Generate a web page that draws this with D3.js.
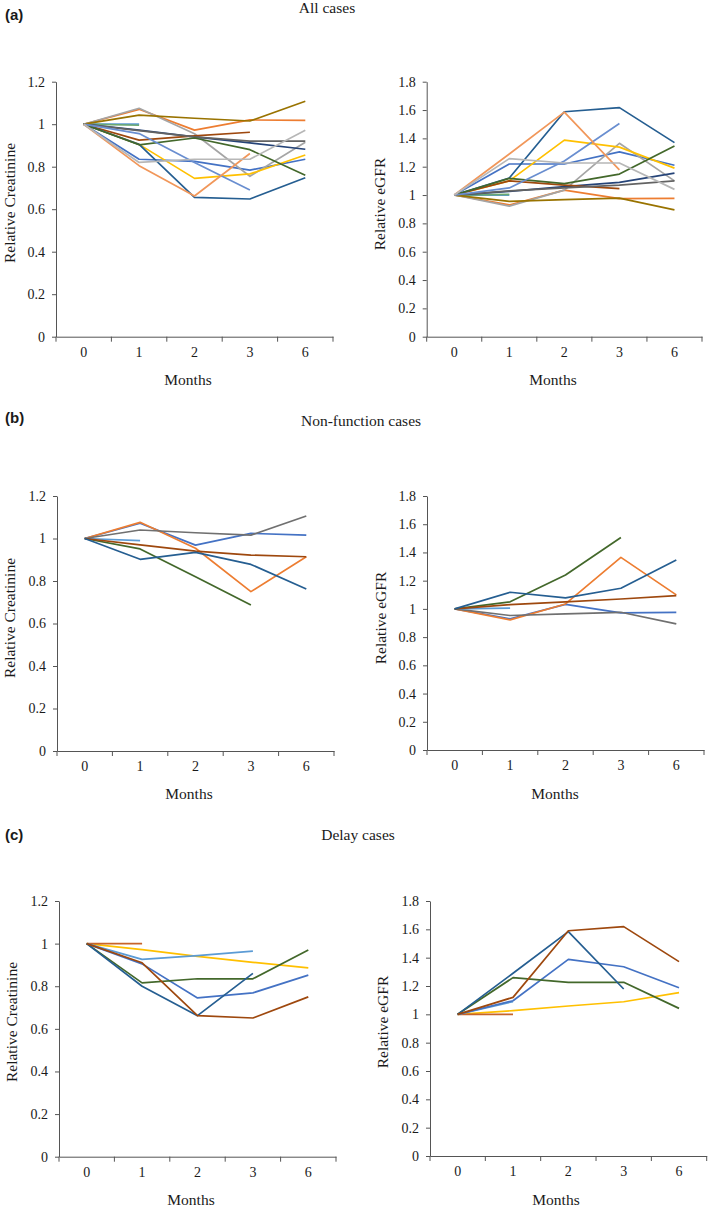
<!DOCTYPE html>
<html>
<head>
<meta charset="utf-8">
<script src="https://cdn.jsdelivr.net/npm/d3@7"></script>
<style>
  html, body { margin: 0; padding: 0; background: #ffffff; }
  svg { display: block; }
</style>
</head>
<body>
<script>
// ---------------- DATA ----------------
const months = ["0", "1", "2", "3", "6"];
const creatinineTicks = [0, 0.2, 0.4, 0.6, 0.8, 1, 1.2];
const egfrTicks = [0, 0.2, 0.4, 0.6, 0.8, 1, 1.2, 1.4, 1.6, 1.8];

// (a) All cases
const allColors = ["#4472C4", "#ED7D31", "#A5A5A5", "#FFC000", "#5B9BD5", "#6AA872",
  "#264478", "#9E480E", "#636363", "#997300", "#255E91", "#43682B",
  "#698ED0", "#F1975A", "#B7B7B7"];
const allCreatinine = [
  [1, 0.835, 0.825, 0.784, 0.835],
  [1, 1.07, 0.972, 1.02, 1.018],
  [1, 1.075, 0.955, 0.755, 0.915],
  [1, 0.905, 0.745, 0.766, 0.855],
  [1, 1.0, null, null, null],
  [1, 0.995, null, null, null],
  [1, 0.972, 0.94, 0.912, 0.882],
  [1, 0.925, 0.945, 0.962, null],
  [1, 0.97, 0.94, 0.92, 0.92],
  [1, 1.043, 1.028, 1.015, 1.108],
  [1, 0.905, 0.656, 0.648, 0.748],
  [1, 0.903, 0.935, 0.88, 0.76],
  [1, 0.956, 0.82, 0.69, null],
  [1, 0.805, 0.662, 0.862, null],
  [1, 0.82, 0.835, 0.835, 0.972]
];
const allEGFR = [
  [1, 1.219, 1.219, 1.305, 1.21],
  [1, 0.93, 1.035, 0.975, 0.977],
  [1, 0.922, 1.035, 1.365, 1.10],
  [1, 1.10, 1.388, 1.338, 1.19],
  [1, 1.0, null, null, null],
  [1, 1.005, null, null, null],
  [1, 1.026, 1.059, 1.089, 1.155],
  [1, 1.10, 1.07, 1.045, null],
  [1, 1.03, 1.05, 1.07, 1.10],
  [1, 0.955, 0.967, 0.978, 0.895],
  [1, 1.12, 1.588, 1.617, 1.37],
  [1, 1.118, 1.08, 1.148, 1.346],
  [1, 1.05, 1.24, 1.505, null],
  [1, 1.29, 1.585, 1.178, null],
  [1, 1.257, 1.226, 1.226, 1.04]
];

// (b) Non-function cases
const nonFunctionColors = ["#4472C4", "#ED7D31", "#707070", "#5B9BD5", "#43682B", "#9E480E", "#255E91"];
const nonFunctionCreatinine = [
  [1, 1.072, 0.969, 1.024, 1.016],
  [1, 1.076, 0.954, 0.75, 0.914],
  [1, 1.04, 1.027, 1.016, 1.106],
  [1, 0.99, null, null, null],
  [1, 0.951, 0.82, 0.687, null],
  [1, 0.97, 0.941, 0.922, 0.914],
  [1, 0.902, 0.935, 0.878, 0.762]
];
const nonFunctionEGFR = [
  [1, 0.93, 1.032, 0.972, 0.976],
  [1, 0.922, 1.035, 1.365, 1.099],
  [1, 0.953, 0.965, 0.976, 0.894],
  [1, 1.005, null, null, null],
  [1, 1.05, 1.24, 1.506, null],
  [1, 1.03, 1.05, 1.07, 1.094],
  [1, 1.118, 1.078, 1.146, 1.346]
];

// (c) Delay cases
const delayColors = ["#FFC000", "#C8642A", "#5B9BD5", "#4472C4", "#43682B", "#255E91", "#9E480E"];
const delayCreatinine = [
  [1, 0.972, 0.94, 0.912, 0.886],
  [1, 1.0, null, null, null],
  [1, 0.926, 0.944, 0.965, null],
  [1, 0.905, 0.745, 0.769, 0.852],
  [1, 0.816, 0.835, 0.835, 0.97],
  [1, 0.80, 0.662, 0.86, null],
  [1, 0.91, 0.662, 0.651, 0.75]
];
const delayEGFR = [
  [1, 1.026, 1.059, 1.089, 1.153],
  [1, 1.0, null, null, null],
  [1, 1.09, null, null, null],
  [1, 1.096, 1.388, 1.336, 1.188],
  [1, 1.259, 1.226, 1.226, 1.042],
  [1, 1.29, 1.584, 1.179, null],
  [1, 1.12, 1.59, 1.619, 1.372]
];

// ---------------- DRAWING ----------------
const W = 709, H = 1207;
const serif = "'Liberation Serif', 'Times New Roman', serif";
const sans = "'Liberation Sans', Arial, sans-serif";
const axisColor = "#555555";
const textColor = "#1a1a1a";

const svg = d3.select("body").append("svg")
  .attr("width", W).attr("height", H)
  .attr("viewBox", `0 0 ${W} ${H}`);

function drawPanel(geom, series, colors, ticks, yLabel) {
  const x = d3.scaleBand().domain(months).range([geom.x0, geom.x1]).padding(0);
  const yMax = ticks[ticks.length - 1];
  const y = d3.scaleLinear().domain([0, yMax]).range([geom.yBot, geom.yTop]);
  const g = svg.append("g");

  // Y axis
  const yAxis = d3.axisLeft(y)
    .tickValues(ticks)
    .tickFormat(d => String(+d.toFixed(1)))
    .tickSize(4).tickSizeOuter(0).tickPadding(7);
  const gy = g.append("g").attr("transform", `translate(${geom.x0},0)`).call(yAxis);
  gy.select(".domain").attr("stroke", axisColor).attr("stroke-width", 1);
  gy.selectAll(".tick line").attr("stroke", axisColor);
  gy.selectAll(".tick text").attr("font-family", serif).attr("font-size", 14).attr("fill", textColor);

  // X axis (labels centred in bands, tick marks at band boundaries)
  const xAxis = d3.axisBottom(x).tickSize(0).tickSizeOuter(0).tickPadding(10);
  const gx = g.append("g").attr("transform", `translate(0,${geom.yBot})`).call(xAxis);
  gx.select(".domain").attr("stroke", axisColor).attr("stroke-width", 1);
  gx.selectAll(".tick text").attr("font-family", serif).attr("font-size", 14).attr("fill", textColor);
  const bounds = months.map(m => x(m)).concat([x.range()[1]]);
  gx.selectAll("line.bound").data(bounds).enter().append("line")
    .attr("class", "bound")
    .attr("x1", d => d).attr("x2", d => d)
    .attr("y1", 0).attr("y2", 5)
    .attr("stroke", axisColor).attr("stroke-width", 1);

  // Lines
  const line = d3.line()
    .defined(d => d.v !== null && d.v !== undefined)
    .x(d => x(d.m) + x.bandwidth() / 2)
    .y(d => y(d.v));
  series.forEach((vals, i) => {
    const pts = months.map((m, j) => ({ m: m, v: vals[j] }));
    g.append("path")
      .attr("d", line(pts))
      .attr("fill", "none")
      .attr("stroke", colors[i])
      .attr("stroke-width", 1.7)
      .attr("stroke-linejoin", "round");
  });

  // Y label
  g.append("text")
    .attr("transform", `translate(${geom.ylx},${geom.yly}) rotate(-90)`)
    .attr("text-anchor", "middle")
    .attr("dominant-baseline", "central")
    .attr("font-family", serif).attr("font-size", 15.5).attr("fill", textColor)
    .text(yLabel);

  // X label
  g.append("text")
    .attr("x", geom.mx).attr("y", geom.my)
    .attr("text-anchor", "middle")
    .attr("font-family", serif).attr("font-size", 15.5).attr("fill", textColor)
    .text("Months");
}

const rows = [
  { letter: "(a)", title: "All cases", titleX: 327, titleY: 13, letterY: 20,
    cre: allCreatinine, egfr: allEGFR, colors: allColors,
    left:  { x0: 56, x1: 333, yTop: 81.7, yBot: 336.7, ylx: 9, yly: 203, mx: 188, my: 385 },
    right: { x0: 426.7, x1: 702, yTop: 81.7, yBot: 336.7, ylx: 379, yly: 204, mx: 553, my: 385 } },
  { letter: "(b)", title: "Non-function cases", titleX: 361, titleY: 426, letterY: 423,
    cre: nonFunctionCreatinine, egfr: nonFunctionEGFR, colors: nonFunctionColors,
    left:  { x0: 57, x1: 334, yTop: 496, yBot: 751, ylx: 9, yly: 618, mx: 189, my: 799 },
    right: { x0: 427, x1: 704, yTop: 496, yBot: 750, ylx: 380, yly: 618, mx: 555, my: 799 } },
  { letter: "(c)", title: "Delay cases", titleX: 358, titleY: 840, letterY: 840,
    cre: delayCreatinine, egfr: delayEGFR, colors: delayColors,
    left:  { x0: 59, x1: 336, yTop: 901, yBot: 1156.7, ylx: 11, yly: 1022, mx: 191, my: 1205 },
    right: { x0: 430, x1: 706.7, yTop: 901, yBot: 1156, ylx: 382, yly: 1022, mx: 556, my: 1205 } }
];

rows.forEach(r => {
  svg.append("text")
    .attr("x", 5).attr("y", r.letterY)
    .attr("font-family", sans).attr("font-weight", "bold").attr("font-size", 15)
    .attr("fill", textColor)
    .text(r.letter);
  svg.append("text")
    .attr("x", r.titleX).attr("y", r.titleY)
    .attr("text-anchor", "middle")
    .attr("font-family", serif).attr("font-size", 15.5).attr("fill", textColor)
    .text(r.title);
  drawPanel(r.left, r.cre, r.colors, creatinineTicks, "Relative Creatinine");
  drawPanel(r.right, r.egfr, r.colors, egfrTicks, "Relative eGFR");
});
</script>
</body>
</html>
